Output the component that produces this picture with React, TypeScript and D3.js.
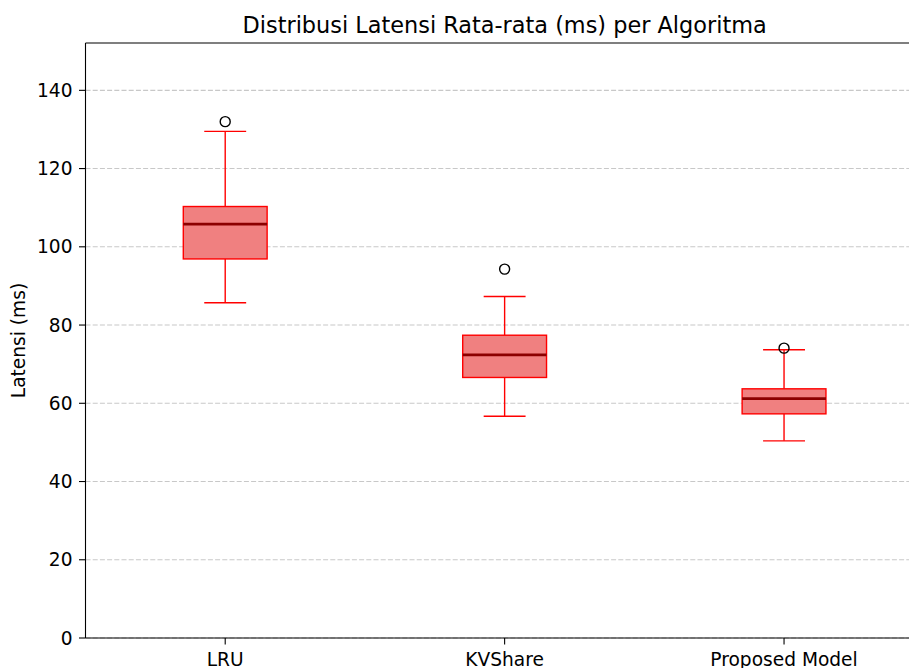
import React from 'react'
import * as d3 from 'd3'

// data
const algorithms = ['LRU', 'KVShare', 'Proposed Model']
const whiskerLow = [85.7, 56.7, 50.4]
const q1 = [96.9, 66.6, 57.3]
const median = [105.8, 72.4, 61.2]
const q3 = [110.3, 77.4, 63.7]
const whiskerHigh = [129.5, 87.3, 73.7]
const outliers = [[132.0], [94.3], [74.1]]
const yTicks = [0, 20, 40, 60, 80, 100, 120, 140]

const W = 909
const H = 668
const left = 85.5
const top = 43
const bottom = 638
const right = 923.75

const App = () => {
  const x = d3.scaleLinear().domain([0.5, 3.5]).range([left, right])
  const y = d3.scaleLinear().domain([0, 152.1]).range([bottom, top])
  const boxW = x(1.15) - x(0.85)
  const capW = x(1.075) - x(0.925)
  const font = 'DejaVu Sans, sans-serif'
  const lw = 1.4

  return (
    <svg
      width={W}
      height={H}
      style={{ position: 'absolute', left: 0, top: 0, background: '#fff' }}
      fontFamily={font}
    >
      {/* grid */}
      {yTicks.map((t) => (
        <line
          key={'g' + t}
          x1={left}
          x2={W}
          y1={y(t)}
          y2={y(t)}
          stroke="#b0b0b0"
          strokeOpacity={0.7}
          strokeWidth={1.1}
          strokeDasharray="5,2.2"
        />
      ))}

      {/* boxes */}
      {algorithms.map((a, i) => {
        const cx = x(i + 1)
        return (
          <g key={a}>
            <line x1={cx} x2={cx} y1={y(q3[i])} y2={y(whiskerHigh[i])} stroke="red" strokeWidth={lw} />
            <line x1={cx} x2={cx} y1={y(q1[i])} y2={y(whiskerLow[i])} stroke="red" strokeWidth={lw} />
            <line x1={cx - capW / 2} x2={cx + capW / 2} y1={y(whiskerHigh[i])} y2={y(whiskerHigh[i])} stroke="red" strokeWidth={lw} />
            <line x1={cx - capW / 2} x2={cx + capW / 2} y1={y(whiskerLow[i])} y2={y(whiskerLow[i])} stroke="red" strokeWidth={lw} />
            <rect
              x={cx - boxW / 2}
              y={y(q3[i])}
              width={boxW}
              height={y(q1[i]) - y(q3[i])}
              fill="#f08080"
              stroke="red"
              strokeWidth={lw}
            />
            <line x1={cx - boxW / 2} x2={cx + boxW / 2} y1={y(median[i])} y2={y(median[i])} stroke="#8b0000" strokeWidth={2.8} />
            {outliers[i].map((o, j) => (
              <circle key={j} cx={cx} cy={y(o)} r={5} fill="none" stroke="#000" strokeWidth={1.4} />
            ))}
          </g>
        )
      })}

      {/* axes spines */}
      <line x1={left} x2={left} y1={top} y2={bottom} stroke="#000" strokeWidth={1.1} />
      <line x1={left} x2={W} y1={bottom} y2={bottom} stroke="#000" strokeWidth={1.1} />
      <line x1={left} x2={W} y1={top} y2={top} stroke="#000" strokeWidth={1.1} />

      {/* y ticks */}
      {yTicks.map((t) => (
        <g key={'t' + t}>
          <line x1={left - 6.5} x2={left} y1={y(t)} y2={y(t)} stroke="#000" strokeWidth={1.1} />
          <text x={left - 13} y={y(t)} dy="0.35em" textAnchor="end" fontSize={18.6} fill="#000">
            {t}
          </text>
        </g>
      ))}

      {/* x ticks */}
      {algorithms.map((a, i) => (
        <g key={'x' + a}>
          <line x1={x(i + 1)} x2={x(i + 1)} y1={bottom} y2={bottom + 6.5} stroke="#000" strokeWidth={1.1} />
          <text x={x(i + 1)} y={bottom + 28} textAnchor="middle" fontSize={18.6} fill="#000">
            {a}
          </text>
        </g>
      ))}

      <text x={(left + right) / 2} y={33} textAnchor="middle" fontSize={22.4} fill="#000">
        Distribusi Latensi Rata-rata (ms) per Algoritma
      </text>
      <text
        transform={`translate(25,${(top + bottom) / 2}) rotate(-90)`}
        textAnchor="middle"
        fontSize={18.6}
        fill="#000"
      >
        Latensi (ms)
      </text>
    </svg>
  )
}

export default App
